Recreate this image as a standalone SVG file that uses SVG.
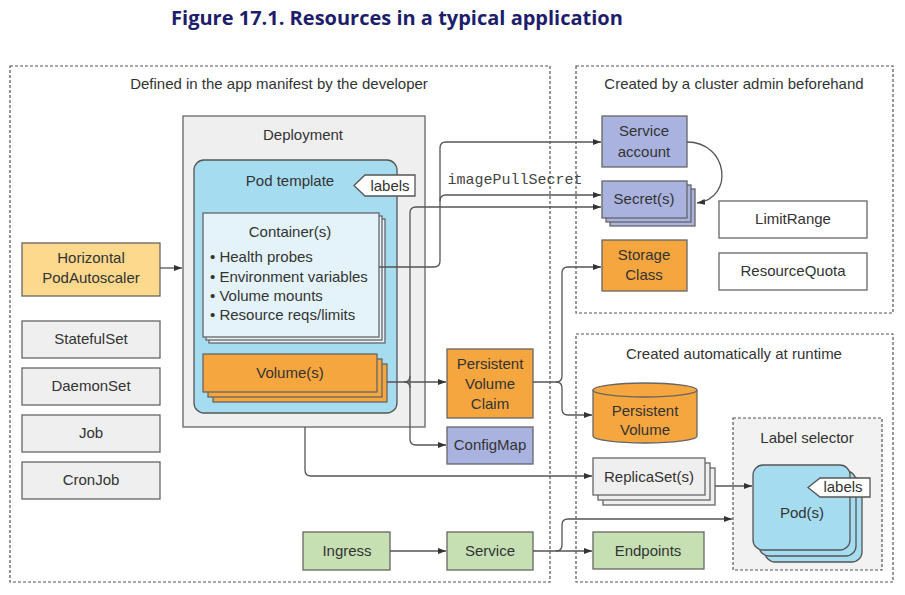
<svg xmlns="http://www.w3.org/2000/svg" width="905" height="595" viewBox="0 0 905 595">
<defs>
<style>
text{font-family:"Liberation Sans",Arial,sans-serif;font-size:15px;fill:#333;text-anchor:middle}
.title{font-family:"Open Sans","Liberation Sans",sans-serif;font-weight:bold;font-size:20px;fill:#1d1d6b}
.mono{font-family:"Liberation Mono","Courier New",monospace;font-size:15px;fill:#444}
.left{text-anchor:start}
.region{fill:none;stroke:#555;stroke-width:1.2;stroke-dasharray:3 2}
.gray{fill:#efefef;stroke:#666;stroke-width:1.3}
.white{fill:#fff;stroke:#666;stroke-width:1.3}
.orange{fill:#f6a63f;stroke:#666;stroke-width:1.3}
.hpa{fill:#fdd98e;stroke:#666;stroke-width:1.3}
.lav{fill:#aab3df;stroke:#666;stroke-width:1.3}
.green{fill:#c6e0b4;stroke:#666;stroke-width:1.3}
.blue{fill:#a6dcef;stroke:#555;stroke-width:1.3}
.cont{fill:#e3f3f9;stroke:#666;stroke-width:1.3}
.conn path{fill:none;stroke:#555;stroke-width:1.3}
</style>
<marker id="ah" markerWidth="8" markerHeight="6" refX="8" refY="3" orient="auto" markerUnits="userSpaceOnUse">
<path d="M0,0 L8,3 L0,6 z" fill="#333"/>
</marker>
</defs>
<rect width="905" height="595" fill="#fff"/>
<text class="title" x="397" y="25">Figure 17.1. Resources in a typical application</text>

<g id="region-developer">
<rect class="region" x="10" y="66" width="540" height="516"/>
<text x="279" y="89">Defined in the app manifest by the developer</text>
</g>
<g id="region-admin">
<rect class="region" x="576" y="66" width="317" height="247"/>
<text x="734" y="89">Created by a cluster admin beforehand</text>
</g>
<g id="region-runtime">
<rect class="region" x="576" y="334" width="317" height="248"/>
<text x="734" y="359">Created automatically at runtime</text>
</g>

<g id="deployment">
<rect class="gray" x="183" y="116" width="242" height="311" fill="#f2f2f2"/>
<text x="303" y="140">Deployment</text>
</g>
<g id="pod-template">
<rect class="blue" x="194" y="160" width="203" height="253" rx="10"/>
<text x="290" y="186">Pod template</text>
<path d="M354,185.5 L365,175 H415 V196 H365 Z" fill="#fff" stroke="#555" stroke-width="1.3"/>
<text x="390" y="191">labels</text>
</g>
<g id="containers">
<rect class="cont" x="209" y="219" width="176" height="124"/>
<rect class="cont" x="206" y="216" width="176" height="124"/>
<rect class="cont" x="203" y="213" width="176" height="124"/>
<text x="290" y="237">Container(s)</text>
<text class="left" x="210" y="262">• Health probes</text>
<text class="left" x="210" y="282">• Environment variables</text>
<text class="left" x="210" y="301">• Volume mounts</text>
<text class="left" x="210" y="320">• Resource reqs/limits</text>
</g>
<g id="volumes">
<rect class="orange" x="213" y="364" width="174" height="38"/>
<rect class="orange" x="208" y="359" width="174" height="38"/>
<rect class="orange" x="203" y="354" width="174" height="38"/>
<text x="290" y="378">Volume(s)</text>
</g>

<g id="hpa">
<rect class="hpa" x="22" y="243" width="138" height="53"/>
<text x="91" y="263">Horizontal</text>
<text x="91" y="283">PodAutoscaler</text>
</g>
<g id="statefulset"><rect class="gray" x="22" y="321" width="138" height="37"/><text x="91" y="344">StatefulSet</text></g>
<g id="daemonset"><rect class="gray" x="22" y="368" width="138" height="37"/><text x="91" y="391">DaemonSet</text></g>
<g id="job"><rect class="gray" x="22" y="415" width="138" height="37"/><text x="91" y="438">Job</text></g>
<g id="cronjob"><rect class="gray" x="22" y="462" width="138" height="37"/><text x="91" y="485">CronJob</text></g>

<g id="pvc">
<rect class="orange" x="447" y="349" width="86" height="69"/>
<text x="490" y="369">Persistent</text>
<text x="490" y="389">Volume</text>
<text x="490" y="409">Claim</text>
</g>
<g id="configmap">
<rect class="lav" x="447" y="427" width="86" height="37"/>
<text x="490" y="450">ConfigMap</text>
</g>
<g id="ingress"><rect class="green" x="303" y="532" width="87" height="38"/><text x="347" y="556">Ingress</text></g>
<g id="service"><rect class="green" x="447" y="532" width="86" height="38"/><text x="490" y="556">Service</text></g>

<g id="service-account">
<rect class="lav" x="602" y="116" width="85" height="51"/>
<text x="644" y="136">Service</text>
<text x="644" y="157">account</text>
</g>
<g id="secrets">
<rect class="lav" x="610" y="189" width="85" height="37"/>
<rect class="lav" x="606" y="185" width="85" height="37"/>
<rect class="lav" x="602" y="181" width="85" height="37"/>
<text x="644" y="204">Secret(s)</text>
</g>
<g id="storage-class">
<rect class="orange" x="602" y="240" width="85" height="51"/>
<text x="644" y="260">Storage</text>
<text x="644" y="280">Class</text>
</g>
<g id="limitrange"><rect class="white" x="719" y="201" width="148" height="37"/><text x="793" y="224">LimitRange</text></g>
<g id="resourcequota"><rect class="white" x="719" y="253" width="148" height="37"/><text x="793" y="276">ResourceQuota</text></g>

<g id="persistent-volume">
<path d="M593,390 V436 A52,7 0 0 0 697,436 V390" class="orange"/>
<ellipse cx="645" cy="390" rx="52" ry="7" class="orange"/>
<text x="645" y="416">Persistent</text>
<text x="645" y="435">Volume</text>
</g>
<g id="label-selector">
<rect x="733" y="418" width="149" height="152" fill="#f2f2f2" stroke="#555" stroke-width="1.2" stroke-dasharray="3 2"/>
<text x="807" y="443">Label selector</text>
</g>
<g id="replicasets">
<rect class="gray" x="603" y="468" width="112" height="37"/>
<rect class="gray" x="598" y="463" width="112" height="37"/>
<rect class="gray" x="593" y="458" width="112" height="37"/>
<text x="649" y="482">ReplicaSet(s)</text>
</g>
<g id="pods">
<rect class="blue" x="765" y="477" width="97" height="85" rx="10"/>
<rect class="blue" x="759" y="471" width="97" height="85" rx="10"/>
<rect class="blue" x="753" y="465" width="97" height="85" rx="10"/>
<path d="M808,487.5 L820,478 H870 V497 H820 Z" fill="#fff" stroke="#555" stroke-width="1.3"/>
<text x="843" y="492">labels</text>
<text x="802" y="518">Pod(s)</text>
</g>
<g id="endpoints"><rect class="green" x="593" y="532" width="111" height="37"/><text x="648" y="556">Endpoints</text></g>

<g id="connectors" class="conn">
<path d="M379,267 H434 Q440,267 440,261 V148 Q440,142 446,142 H601" marker-end="url(#ah)"/>
<path d="M160,268 H182" marker-end="url(#ah)"/>
<path d="M440,201 Q440,195 446,195 H601" marker-end="url(#ah)"/>
<text class="mono" x="515" y="184">imagePullSecret</text>
<path d="M410,439 V213 Q410,207 416,207 H601" marker-end="url(#ah)"/>
<path d="M410,439 Q410,445 416,445 H446" marker-end="url(#ah)"/>
<path d="M387,382 H446" marker-end="url(#ah)"/>
<path d="M404,382 Q410,382 410,376 M404,382 Q410,382 410,388"/>
<path d="M533,382 H556 Q562,382 562,376 V273 Q562,267 568,267 H601" marker-end="url(#ah)"/>
<path d="M556,382 Q562,382 562,388 V409 Q562,415 568,415 H592" marker-end="url(#ah)"/>
<path d="M305,427 V470 Q305,476 311,476 H592" marker-end="url(#ah)"/>
<path d="M715,486 H752" marker-end="url(#ah)"/>
<path d="M390,551 H446" marker-end="url(#ah)"/>
<path d="M533,551 H592" marker-end="url(#ah)"/>
<path d="M556,551 Q562,551 562,545 V525 Q562,519 568,519 H732" marker-end="url(#ah)"/>
<path d="M687,142 C728,142 735,198 697,203" marker-end="url(#ah)"/>
</g>
</svg>
